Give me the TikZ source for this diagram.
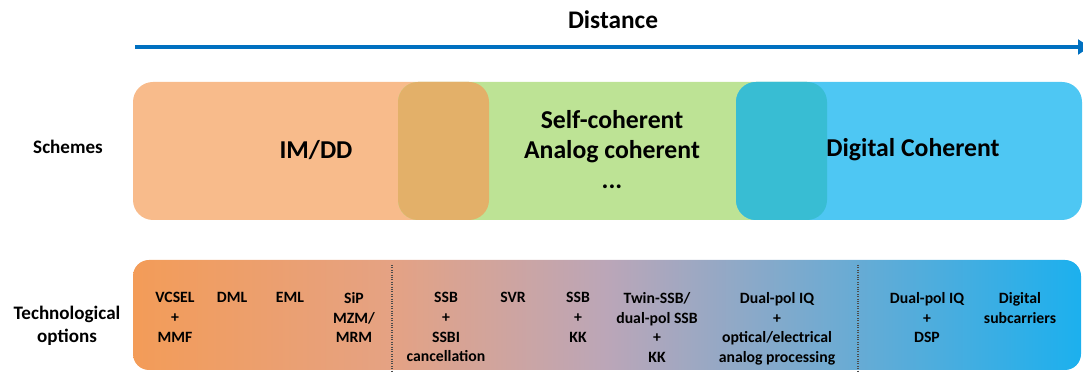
\documentclass[tikz,border=0pt]{standalone}
\usepackage{fontspec}
\setmainfont{Carlito}
\usetikzlibrary{arrows.meta,positioning}

\definecolor{arrowblue}{HTML}{0070C0}
\definecolor{imddfill}{HTML}{F8BB8B}
\definecolor{selffill}{HTML}{BDE395}
\definecolor{digfill}{HTML}{4EC7F3}
\definecolor{ovlorange}{HTML}{E3B069}
\definecolor{ovlblue}{HTML}{38BDD3}
\definecolor{tecA}{HTML}{F39C58}
\definecolor{tecB}{HTML}{E5A283}
\definecolor{tecC}{HTML}{BBA6B8}
\definecolor{tecD}{HTML}{1CB0EE}
% only the middle 50bp of the shading are seen
\pgfdeclarehorizontalshading{techshade}{100bp}{color(0bp)=(tecA); color(25bp)=(tecA); color(38.5bp)=(tecB); color(50bp)=(tecC); color(75bp)=(tecD); color(100bp)=(tecD)}

\begin{document}
\begin{tikzpicture}[x=0.75pt,y=-0.75pt,
  rowlabel/.style={font=\fontsize{14.3}{17.5}\selectfont\bfseries, align=center, inner sep=0pt},
  schemetext/.style={font=\fontsize{19.3}{22.5}\selectfont\bfseries, align=center, inner sep=0pt},
  techtext/.style={font=\fontsize{11.8}{14.8}\selectfont\bfseries, align=center, inner sep=0pt, anchor=north},
  sepline/.style={densely dotted, line width=0.8pt, black!70}]
\useasboundingbox (0,0) rectangle (1083,373);

% distance axis
\node[font=\fontsize{19}{22}\selectfont\bfseries, inner sep=0pt] (dist) at (613,20) {Distance};
\coordinate (dstart) at (135,47);
\coordinate (dend) at (1090,47);
\draw[arrowblue, line width=2.8pt, -{Triangle[length=9pt,width=11pt]}] (dstart) -- (dend);

% row labels
\node[rowlabel] (schemes) at (68,147) {Schemes};
\node[rowlabel] (techopt) at (67,326) {Technological\\options};

% schemes: three overlapping boxes
\fill[imddfill, rounded corners=15pt] (133,82) rectangle (489,220);
\fill[selffill, rounded corners=15pt] (398,82) rectangle (827,220);
\fill[digfill, rounded corners=15pt] (736,82) rectangle (1082,220);
\begin{scope}
  \clip[rounded corners=15pt] (133,82) rectangle (489,220);
  \fill[ovlorange, rounded corners=15pt] (398,82) rectangle (827,220);
\end{scope}
\begin{scope}
  \clip[rounded corners=15pt] (398,82) rectangle (827,220);
  \fill[ovlblue, rounded corners=15pt] (736,82) rectangle (1082,220);
\end{scope}
\node[schemetext] (imdd) at (316,150) {IM/DD};
\node[schemetext] (selfcoh) at (612,150) {Self-coherent\\Analog coherent\\...};
\node[schemetext] (digcoh) at (913,150) {Digital Coherent};

% technological options
\shade[shading=techshade, rounded corners=12pt] (133,260) rectangle (1081,370);
\draw[sepline] (392,265) -- (392,372);
\draw[sepline] (858,265) -- (858,372);

\node[techtext] (vcsel) at (175,292) {VCSEL\\+\\MMF};
\node[techtext] (dml) at (232,292) {DML};
\node[techtext] (eml) at (290,292) {EML};
\node[techtext] (sip) at (354,292) {SiP\\MZM/\\MRM};
\node[techtext] (ssbi) at (446,292) {SSB\\+\\SSBI\\cancellation};
\node[techtext] (svr) at (513,292) {SVR};
\node[techtext] (ssbkk) at (578,292) {SSB\\+\\KK};
\node[techtext] (twin) at (657,292) {Twin-SSB/\\dual-pol SSB\\+\\KK};
\node[techtext] (iqanalog) at (777,292) {Dual-pol IQ\\+\\optical/electrical\\analog processing};
\node[techtext] (iqdsp) at (927,292) {Dual-pol IQ\\+\\DSP};
\node[techtext] (subc) at (1020,292) {Digital\\subcarriers};
\end{tikzpicture}
\end{document}
